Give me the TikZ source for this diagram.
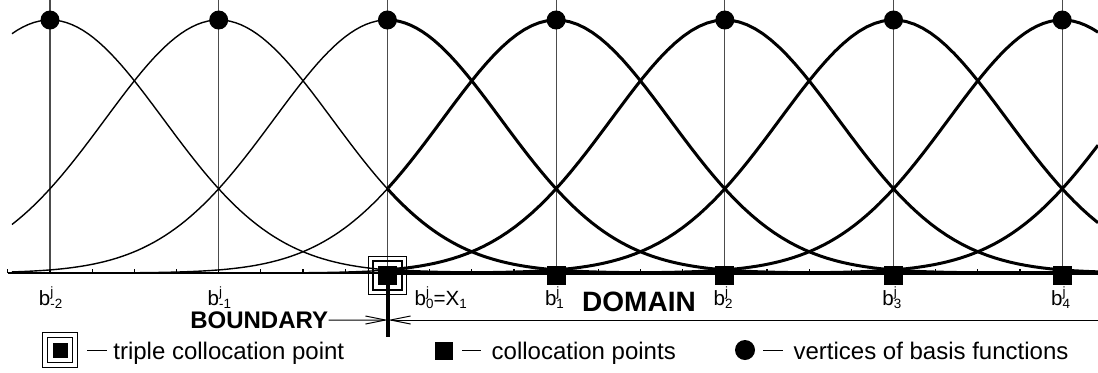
\documentclass[tikz,border=0pt]{standalone}
\usepackage{fontspec}
\setmainfont{Liberation Sans}
\usetikzlibrary{arrows.meta}
\newcommand{\bjlab}[1]{b\rlap{\raisebox{4.1pt}{\fontsize{6.7}{6.7}\selectfont j}}\raisebox{-1.6pt}{\fontsize{6.7}{6.7}\selectfont #1}}
\newcommand{\legdash}[1]{\rule[4.4pt]{9.6pt}{0.55pt}\hspace{#1}}
\begin{document}
\begin{tikzpicture}[x=0.5pt,y=-0.5pt,
  declare function={gy(\x,\c)=273-253*exp(-1.1*((\x-\c)/168.7)^2);},
  vline/.style={black!70,line width=0.55pt},
  thincurve/.style={line width=0.7pt,samples=70},
  thickcurve/.style={line width=1.5pt,samples=90,line join=round},
  vertex/.style={circle,fill=black,inner sep=0pt,minimum size=9.5pt},
  colloc/.style={rectangle,fill=black,inner sep=0pt,minimum size=9.5pt},
  frame/.style={rectangle,draw=black,line width=0.6pt,inner sep=0pt},
  blabel/.style={anchor=base west,inner sep=0pt,font=\fontsize{10.3}{12}\selectfont},
  legtext/.style={anchor=base west,inner sep=0pt,font=\fontsize{12}{14}\selectfont},
  barb/.style={line width=0.5pt,-{Straight Barb[length=10pt,width=4pt]}},
]
\path[use as bounding box] (0,0) rectangle (1098,372);

% vertical lines at vertices
\foreach \i in {0,...,6} {
  \pgfmathsetmacro\vx{50+168.7*\i}
  \coordinate (t\i) at (\vx,0);
  \coordinate (b\i) at (\vx,273);
  \draw[vline] (t\i) -- (b\i);
}

% baseline
\coordinate (L) at (8,273);
\coordinate (R) at (1098,273);
\draw[line width=1pt] (L) -- (b2);
\draw[line width=2pt] (b2) -- (R);
\foreach \k in {-1,...,24} {
  \draw[line width=0.6pt] ({50+42.175*\k},273) -- ({50+42.175*\k},269);
}

% thin parts of basis functions
\draw[thincurve] plot[domain=12:388] (\x,{gy(\x,50)});
\draw[thincurve] plot[domain=12:388] (\x,{gy(\x,218.7)});
\draw[thincurve] plot[domain=12:388] (\x,{gy(\x,387.4)});
\draw[thincurve] plot[domain=50:388] (\x,{gy(\x,556.1)});
\draw[thincurve] plot[domain=218.8:388] (\x,{gy(\x,724.8)});
% thick parts
\draw[thickcurve] plot[domain=388:556] (\x,{gy(\x,50)});
\draw[thickcurve] plot[domain=388:724.7] (\x,{gy(\x,218.7)});
\draw[thickcurve] plot[domain=388:893] (\x,{gy(\x,387.4)});
\draw[thickcurve] plot[domain=388:1062] (\x,{gy(\x,556.1)});
\draw[thickcurve] plot[domain=388:1098] (\x,{gy(\x,724.8)});
\draw[thickcurve] plot[domain=388:1098] (\x,{gy(\x,893.5)});
\draw[thickcurve] plot[domain=556:1098] (\x,{gy(\x,1062.2)});
\draw[thickcurve] plot[domain=725:1098] (\x,{gy(\x,1230.9)});

% boundary line below
\coordinate (bx) at (388,320);
\coordinate (bend) at (388,337);
\coordinate (rx) at (1098,320);
\draw[line width=1.6pt] (388,276) -- (bend);

% vertices
\foreach \i in {0,...,6} {
  \node[vertex] (v\i) at (t\i |- 0,20) {};
}
% collocation points
\foreach \i in {2,...,6} {
  \node[colloc] (s\i) at (b\i |- 0,275.5) {};
}
\node[frame,minimum size=14.5pt] (fi) at (s2) {};
\node[frame,minimum size=19pt] (fo) at (s2) {};

% labels
\node[blabel] (lm2) at (38.5,305) {\bjlab{-2}};
\node[blabel] (lm1) at (207.2,305) {\bjlab{-1}};
\node[blabel] (l0) at (414.3,305) {\bjlab{0}=X\raisebox{-1.6pt}{\fontsize{6.7}{6.7}\selectfont 1}};
\node[blabel] (l1) at (544.6,305) {\bjlab{1}};
\node[blabel] (l2) at (713.3,305) {\bjlab{2}};
\node[blabel] (l3) at (882,305) {\bjlab{3}};
\node[blabel] (l4) at (1050.7,305) {\bjlab{4}};

\node[anchor=base,inner sep=0pt,font=\bfseries\fontsize{14}{16}\selectfont] (dom) at (639,311.7) {DOMAIN};
\node[anchor=base east,inner sep=0pt,font=\bfseries\fontsize{12}{14}\selectfont] (bnd) at (328.5,328.3) {BOUNDARY};
\draw[barb] (bnd.east) -- (bx);
\draw[barb] (rx) -- (bx);

% legend
\node[frame,minimum size=17.5pt] (lg1o) at (60,350) {};
\node[frame,minimum size=12.5pt] (lg1i) at (60,350) {};
\node[colloc,minimum size=7.5pt] (lg1f) at (60,350) {};
\node[legtext] (lt1) at (87,359.5) {\legdash{3.4pt}triple collocation point};
\node[colloc,minimum size=9pt] (lg2) at (444,351) {};
\node[legtext] (lt2) at (461.7,359.5) {\legdash{5.2pt}collocation points};
\node[vertex,minimum size=10pt] (lg3) at (745,350) {};
\node[legtext] (lt3) at (763,359.5) {\legdash{5.5pt}vertices of basis functions};
\end{tikzpicture}
\end{document}
